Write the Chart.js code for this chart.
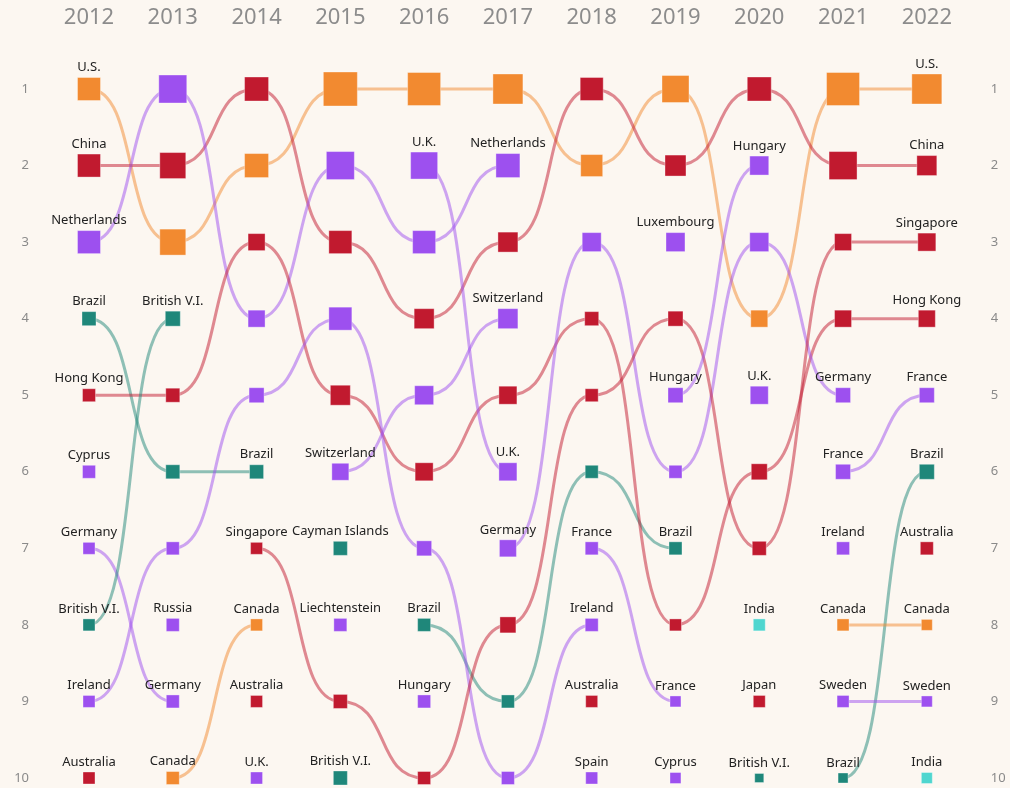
<!DOCTYPE html>
<html>
<head>
<meta charset="utf-8">
<script src="https://cdn.jsdelivr.net/npm/chart.js@4.4.1/dist/chart.umd.min.js"></script>
<style>
  html, body { margin: 0; padding: 0; background: #fcf7f1; }
  canvas { display: block; }
</style>
</head>
<body>
<canvas id="bump" width="1010" height="788"></canvas>
<script>
const years = ["2012", "2013", "2014", "2015", "2016", "2017", "2018", "2019", "2020", "2021", "2022"];
const rankTicks = [1, 2, 3, 4, 5, 6, 7, 8, 9, 10];

// top ten for each year, rank 1 first
const top2012 = ["U.S.", "China", "Netherlands", "Brazil", "Hong Kong", "Cyprus", "Germany", "British V.I.", "Ireland", "Australia"];
const top2013 = ["Netherlands", "China", "U.S.", "British V.I.", "Hong Kong", "Brazil", "Ireland", "Russia", "Germany", "Canada"];
const top2014 = ["China", "U.S.", "Hong Kong", "Netherlands", "Ireland", "Brazil", "Singapore", "Canada", "Australia", "U.K."];
const top2015 = ["U.S.", "Netherlands", "China", "Ireland", "Hong Kong", "Switzerland", "Cayman Islands", "Liechtenstein", "Singapore", "British V.I."];
const top2016 = ["U.S.", "U.K.", "Netherlands", "China", "Switzerland", "Hong Kong", "Ireland", "Brazil", "Hungary", "Singapore"];
const top2017 = ["U.S.", "Netherlands", "China", "Switzerland", "Hong Kong", "U.K.", "Germany", "Singapore", "Brazil", "Ireland"];
const top2018 = ["China", "U.S.", "Germany", "Hong Kong", "Singapore", "Brazil", "France", "Ireland", "Australia", "Spain"];
const top2019 = ["U.S.", "China", "Luxembourg", "Singapore", "Hungary", "Germany", "Brazil", "Hong Kong", "France", "Cyprus"];
const top2020 = ["China", "Hungary", "Germany", "U.S.", "U.K.", "Hong Kong", "Singapore", "India", "Japan", "British V.I."];
const top2021 = ["U.S.", "China", "Singapore", "Hong Kong", "Germany", "France", "Ireland", "Canada", "Sweden", "Brazil"];
const top2022 = ["U.S.", "China", "Singapore", "Hong Kong", "France", "Brazil", "Australia", "Canada", "Sweden", "India"];

// amount behind each place (marker area follows it)
const amount2012 = [207, 207, 207, 77, 66, 66, 56, 56, 56, 56];
const amount2013 = [306, 264, 264, 88, 77, 77, 66, 66, 66, 66];
const amount2014 = [225, 225, 113, 113, 88, 77, 56, 56, 56, 56];
const amount2015 = [452, 306, 207, 207, 156, 113, 77, 66, 77, 77];
const amount2016 = [425, 285, 207, 156, 141, 127, 88, 66, 66, 66];
const amount2017 = [352, 225, 156, 156, 127, 127, 113, 100, 66, 66];
const amount2018 = [207, 189, 141, 77, 66, 66, 66, 66, 56, 56];
const amount2019 = [285, 172, 141, 88, 88, 66, 66, 56, 47, 47];
const amount2020 = [225, 141, 141, 113, 127, 100, 77, 56, 56, 32];
const amount2021 = [425, 306, 113, 113, 88, 88, 66, 56, 56, 39];
const amount2022 = [352, 156, 127, 113, 88, 88, 66, 47, 47, 47];

// regions
const northAmerica = ["U.S.", "Canada"];
const asiaPacific = ["China", "Hong Kong", "Singapore", "Australia", "Japan"];
const latinAmerica = ["Brazil", "British V.I.", "Cayman Islands"];
const southAsia = ["India"];

const regionColor = (name) => {
  if (northAmerica.includes(name)) return [242, 138, 48];
  if (asiaPacific.includes(name)) return [193, 26, 47];
  if (latinAmerica.includes(name)) return [31, 135, 122];
  if (southAsia.includes(name)) return [79, 214, 207];
  return [157, 80, 239]; // Europe
};
const rgba = (c, a) => `rgba(${c[0]},${c[1]},${c[2]},${a})`;

const rankings = [top2012, top2013, top2014, top2015, top2016, top2017, top2018, top2019, top2020, top2021, top2022];
const amounts = [amount2012, amount2013, amount2014, amount2015, amount2016, amount2017, amount2018, amount2019, amount2020, amount2021, amount2022];
const countries = [...new Set(rankings.flat())];

const side = (a) => Math.sqrt(a) * 1.6;

const datasets = countries.map((name) => {
  const data = rankings.map((list) => {
    const i = list.indexOf(name);
    return i < 0 ? null : i + 1;
  });
  const amt = rankings.map((list, y) => {
    const i = list.indexOf(name);
    return i < 0 ? 0 : amounts[y][i];
  });
  const c = regionColor(name);
  return {
    label: name,
    data,
    amt,
    rgb: c,
    showLine: false,
    clip: false,
    pointStyle: "rect",
    pointRadius: amt.map((a) => side(a) / Math.SQRT2),
    pointBackgroundColor: rgba(c, 1),
    pointBorderColor: "rgba(255,255,255,0.35)",
    pointBorderWidth: 1,
  };
});

// smooth S-curves between consecutive years
const bumpLines = {
  id: "bumpLines",
  beforeDatasetsDraw(chart) {
    const ctx = chart.ctx;
    ctx.save();
    ctx.lineWidth = 3;
    ctx.lineCap = "round";
    chart.data.datasets.forEach((ds, d) => {
      const pts = chart.getDatasetMeta(d).data;
      ctx.strokeStyle = rgba(ds.rgb, 0.5);
      for (let i = 0; i < ds.data.length - 1; i++) {
        if (ds.data[i] == null || ds.data[i + 1] == null) continue;
        const a = pts[i], b = pts[i + 1];
        const k = (b.x - a.x) * 0.6;
        ctx.beginPath();
        ctx.moveTo(a.x, a.y);
        ctx.bezierCurveTo(a.x + k, a.y, b.x - k, b.y, b.x, b.y);
        ctx.stroke();
      }
    });
    ctx.restore();
  },
};

// name above a square where the country enters or leaves the top ten
const bumpLabels = {
  id: "bumpLabels",
  afterDatasetsDraw(chart) {
    const ctx = chart.ctx;
    ctx.save();
    ctx.font = '13px "Noto Sans"';
    ctx.fillStyle = "#222";
    ctx.textAlign = "center";
    ctx.textBaseline = "middle";
    chart.data.datasets.forEach((ds, d) => {
      const pts = chart.getDatasetMeta(d).data;
      const n = ds.data.length;
      ds.data.forEach((v, i) => {
        if (v == null) return;
        const prevMissing = i === 0 || ds.data[i - 1] == null;
        const nextMissing = i === n - 1 || ds.data[i + 1] == null;
        if (!prevMissing && !nextMissing) return;
        const p = pts[i];
        ctx.fillText(ds.label, p.x, p.y - side(ds.amt[i]) / 2 - 10);
      });
    });
    ctx.restore();
  },
};

Chart.defaults.font.family = "'Noto Sans', sans-serif";

const rankAxis = (position, pad, width) => ({
  position,
  reverse: true,
  min: 1,
  max: 10,
  grid: { display: false, drawTicks: false },
  border: { display: false },
  ticks: {
    stepSize: 1,
    padding: pad,
    color: "#8a8a8a",
    font: { size: 13 },
    callback: (v) => (rankTicks.includes(v) ? String(v) : ""),
  },
  afterFit: (s) => {
    s.width = width;
    s.paddingTop = 0;
    s.paddingBottom = 0;
  },
});

new Chart(document.getElementById("bump"), {
  type: "line",
  data: { labels: years, datasets },
  options: {
    responsive: false,
    animation: false,
    events: [],
    layout: { autoPadding: false, padding: { bottom: 10 } },
    plugins: { legend: { display: false }, tooltip: { enabled: false } },
    scales: {
      x: {
        position: "top",
        grid: { display: false, drawTicks: false },
        border: { display: false },
        ticks: {
          color: "#8c8c8c",
          font: { size: 22 },
          padding: 58,
          maxRotation: 0,
          autoSkip: false,
        },
        afterFit: (s) => { s.height = 89; },
      },
      y: rankAxis("left", 60, 89),
      y2: rankAxis("right", 64, 81),
    },
  },
  plugins: [bumpLines, bumpLabels],
});
</script>
</body>
</html>
